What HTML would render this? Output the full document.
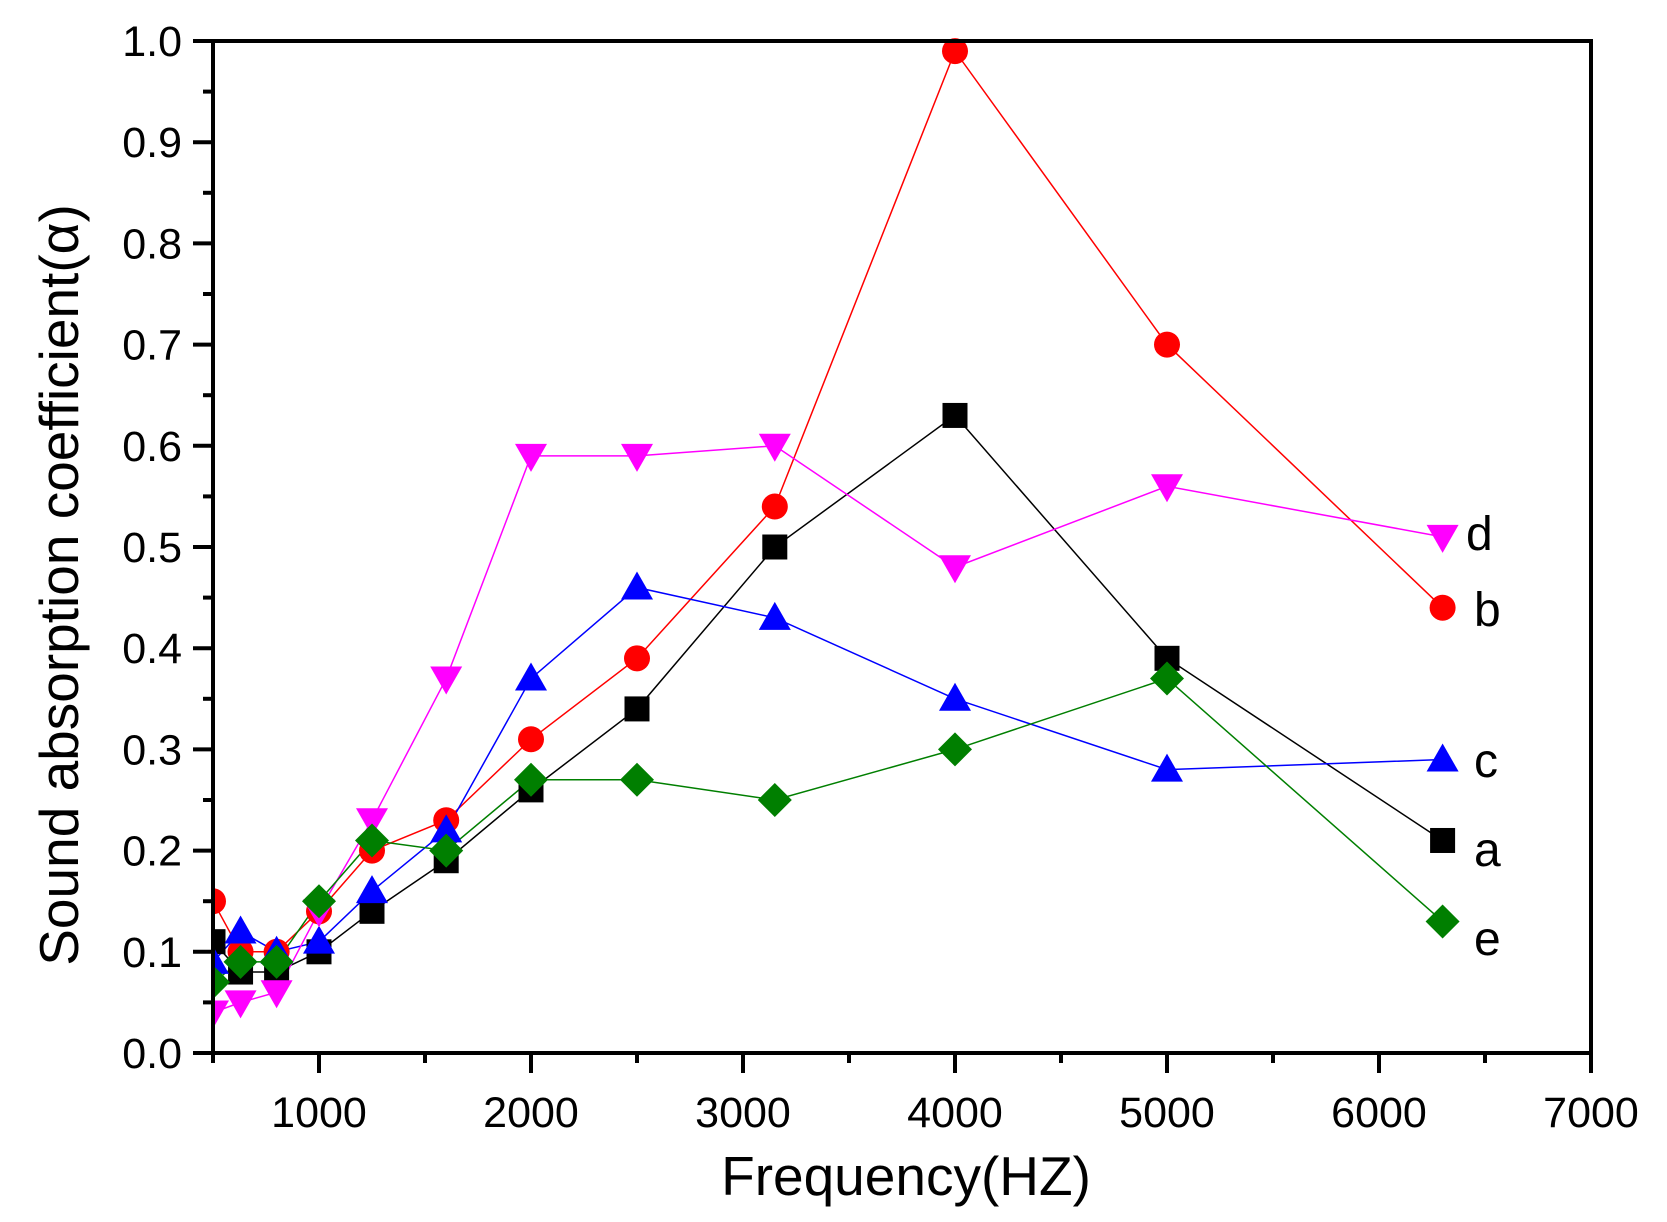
<!DOCTYPE html>
<html><head><style>body{margin:0;background:#fff}svg{display:block}text{font-family:"Liberation Sans",Arial,sans-serif}</style></head>
<body>
<svg id="s" width="1667" height="1222" viewBox="0 0 1667 1222" xmlns="http://www.w3.org/2000/svg">
<defs><clipPath id="c"><rect x="213" y="0" width="1440" height="1053"/></clipPath></defs>
<g id="series" clip-path="url(#c)"></g>
<g stroke="#000" stroke-width="4" fill="none">
<rect x="213" y="41" width="1378" height="1012"/>
</g>
<g id="ticks" stroke="#000" stroke-width="4"></g>
<g id="labels" font-size="43" fill="#000"></g>
<text x="906" y="1195" font-size="55" text-anchor="middle">Frequency(HZ)</text>
<text transform="translate(78,585) rotate(-90)" font-size="55" text-anchor="middle">Sound absorption coefficient(α)</text>
<g font-size="48">
<text x="1466" y="550">d</text>
<text x="1474" y="626">b</text>
<text x="1474" y="777">c</text>
<text x="1474" y="866">a</text>
<text x="1474" y="955">e</text>
</g>
</svg>
<script>
const X=f=>213+(f-500)*0.212, Y=v=>1053-v*1012;
const ns="http://www.w3.org/2000/svg";
function el(p,t,a){const e=document.createElementNS(ns,t);for(const k in a)e.setAttribute(k,a[k]);p.appendChild(e);return e;}
const tk=document.getElementById('ticks'),lb=document.getElementById('labels');
for(let i=0;i<=20;i++){const y=1053-i*50.6;const maj=i%2==0;el(tk,'line',{x1:maj?193:203,x2:213,y1:y,y2:y});
 if(maj){const t=el(lb,'text',{x:182,y:y+15,'text-anchor':'end'});t.textContent=(i/20).toFixed(1);}}
for(let f=500;f<=7000;f+=500){const x=X(f);const maj=f%1000==0;el(tk,'line',{x1:x,x2:x,y1:1053,y2:maj?1073:1063});
 if(maj){const t=el(lb,'text',{x:x,y:1127,'text-anchor':'middle'});t.textContent=f;}}
const F=[500,630,800,1000,1250,1600,2000,2500,3150,4000,5000,6300];
const S=[
['#000','sq',[.11,.08,.08,.10,.14,.19,.26,.34,.50,.63,.39,.21]],
['#f00','ci',[.15,.10,.10,.14,.20,.23,.31,.39,.54,.99,.70,.44]],
['#00f','up',[.09,.12,.10,.11,.16,.22,.37,.46,.43,.35,.28,.29]],
['#f0f','dn',[.04,.05,.06,.14,.23,.37,.59,.59,.60,.48,.56,.51]],
['#007f00','di',[.07,.09,.09,.15,.21,.20,.27,.27,.25,.30,.37,.13]]];
const g=document.getElementById('series');
S.forEach(([c,m,v])=>{el(g,'polyline',{points:v.map((y,i)=>X(F[i])+','+Y(y)).join(' '),fill:'none',stroke:c,'stroke-width':1.5});});
S.forEach(([c,m,v])=>{v.forEach((y,i)=>{const x=X(F[i]),yy=Y(y),r=12.5;
 if(m=='sq')el(g,'rect',{x:x-r,y:yy-r,width:2*r,height:2*r,fill:c});
 else if(m=='ci')el(g,'circle',{cx:x,cy:yy,r:13,fill:c});
 else if(m=='up')el(g,'polygon',{points:`${x},${yy-16} ${x-16},${yy+12} ${x+16},${yy+12}`,fill:c});
 else if(m=='dn')el(g,'polygon',{points:`${x},${yy+16} ${x-16},${yy-12} ${x+16},${yy-12}`,fill:c});
 else el(g,'polygon',{points:`${x},${yy-17} ${x+17},${yy} ${x},${yy+17} ${x-17},${yy}`,fill:c});});});
</script>
</body></html>
